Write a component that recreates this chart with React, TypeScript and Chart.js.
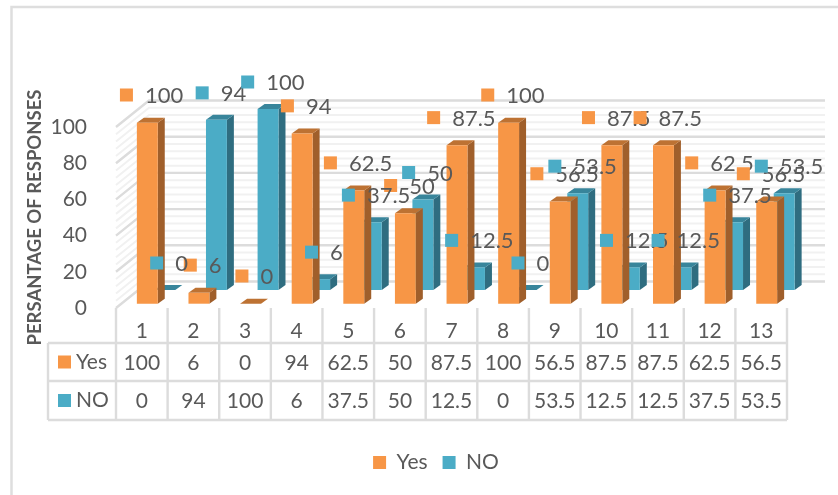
import React, { useEffect, useRef } from "react";
import { Chart, registerables } from "chart.js";

Chart.register(...registerables);

const categories = ["1", "2", "3", "4", "5", "6", "7", "8", "9", "10", "11", "12", "13"];
const yesValues = [100, 6, 0, 94, 62.5, 50, 87.5, 100, 56.5, 87.5, 87.5, 62.5, 56.5];
const noValues = [0, 94, 100, 6, 37.5, 50, 12.5, 0, 53.5, 12.5, 12.5, 37.5, 53.5];
const yTicks = [0, 20, 40, 60, 80, 100];
const yMinorStep = 4;
const yesLabel = "Yes";
const noLabel = "NO";
const axisTitle = "PERSANTAGE OF RESPONSES";

const FONT = "Lato";
const FS = 21;
const LABEL_FS = 22;
const TXT = "#595959";
const ORANGE = { front: "#F79646", side: "#A05F2B", top: "#BD7233" };
const BLUE = { front: "#4BACC6", side: "#2F6D80", top: "#38859B" };
const OFFSETS: { dx: number; dy: number }[] = [
  { dx: 5.5, dy: -4.3 },
  { dx: 23, dy: -18 },
];
const FACES = [ORANGE, BLUE];
const DEPTH = { x: 7, y: 5 };

const bars3d = {
  id: "bars3d",
  beforeDatasetDraw(chart: any, args: any) {
    const ctx = chart.ctx;
    const off = OFFSETS[args.index];
    const faces = FACES[args.index];
    ctx.save();
    ctx.translate(off.dx, off.dy);
    for (const el of args.meta.data) {
      const l = el.x - el.width / 2;
      const r = el.x + el.width / 2;
      ctx.fillStyle = faces.side;
      ctx.beginPath();
      ctx.moveTo(r, el.base);
      ctx.lineTo(r + DEPTH.x, el.base - DEPTH.y);
      ctx.lineTo(r + DEPTH.x, el.y - DEPTH.y);
      ctx.lineTo(r, el.y);
      ctx.closePath();
      ctx.fill();
      ctx.fillStyle = faces.top;
      ctx.beginPath();
      ctx.moveTo(l, el.y);
      ctx.lineTo(l + DEPTH.x, el.y - DEPTH.y);
      ctx.lineTo(r + DEPTH.x, el.y - DEPTH.y);
      ctx.lineTo(r, el.y);
      ctx.closePath();
      ctx.fill();
    }
  },
  afterDatasetDraw(chart: any) {
    chart.ctx.restore();
  },
};

const walls = {
  id: "walls",
  beforeDatasetsDraw(chart: any) {
    const { ctx, scales } = chart;
    const y = scales.y;
    const left = scales.x.left;
    const backX = left + 33;
    const backR = 825;
    const rise = 26.5;
    const major = new Set(yTicks);
    const line = (v: number) => {
      const py = y.getPixelForValue(v);
      ctx.beginPath();
      ctx.moveTo(left, py);
      ctx.lineTo(backX, py - rise);
      ctx.lineTo(backR, py - rise);
      ctx.stroke();
    };
    ctx.save();
    ctx.strokeStyle = "#F1F1F1";
    ctx.lineWidth = 2;
    for (let v = 0; v <= 100; v += yMinorStep) if (!major.has(v)) line(v);
    ctx.strokeStyle = "#DCDCDC";
    ctx.lineWidth = 2.4;
    yTicks.forEach(line);
    ctx.restore();
  },
};

const valueLabels = {
  id: "valueLabels",
  afterDatasetsDraw(chart: any) {
    const { ctx, scales } = chart;
    const groups = [
      { values: yesValues, color: ORANGE.front, dx: 0, dy: -32 },
      { values: noValues, color: BLUE.front, dx: 18, dy: -45 },
    ];
    ctx.save();
    ctx.font = `${LABEL_FS}px ${FONT}`;
    ctx.textBaseline = "middle";
    ctx.textAlign = "left";
    for (const g of groups) {
      g.values.forEach((v, i) => {
        const text = String(v);
        const w = ctx.measureText(text).width;
        const cx = scales.x.getPixelForValue(i) + g.dx - 0.48 * w + 3;
        const cy = scales.y.getPixelForValue(v) + g.dy;
        ctx.fillStyle = g.color;
        ctx.fillRect(cx - 6.5, cy - 6.5, 13, 13);
        ctx.fillStyle = TXT;
        ctx.fillText(text, cx + 18.5, cy + 1);
      });
    }
    ctx.restore();
  },
};

const dataTable = {
  id: "dataTable",
  afterDraw(chart: any) {
    const { ctx, scales } = chart;
    const x = scales.x;
    const tableLeft = 48;
    const rows = [343, 381, 420];
    const axisTop = scales.y.getPixelForValue(0);
    const cw = (x.right - x.left) / categories.length;
    ctx.save();
    ctx.strokeStyle = "#DCDCDC";
    ctx.lineWidth = 2.4;
    ctx.beginPath();
    rows.forEach((r) => {
      ctx.moveTo(tableLeft, r);
      ctx.lineTo(x.right, r);
    });
    ctx.moveTo(tableLeft, rows[0]);
    ctx.lineTo(tableLeft, rows[2]);
    for (let i = 0; i <= categories.length; i++) {
      const px = x.left + cw * i;
      ctx.moveTo(px, axisTop);
      ctx.lineTo(px, rows[2]);
    }
    ctx.stroke();
    ctx.font = `${FS}px ${FONT}`;
    ctx.textBaseline = "middle";
    const series = [
      { name: yesLabel, values: yesValues, color: ORANGE.front },
      { name: noLabel, values: noValues, color: BLUE.front },
    ];
    series.forEach((s, r) => {
      const cy = (rows[r] + rows[r + 1]) / 2;
      ctx.fillStyle = s.color;
      ctx.fillRect(58, cy - 6.5, 13, 13);
      ctx.fillStyle = TXT;
      ctx.textAlign = "left";
      ctx.fillText(s.name, 76, cy);
      ctx.textAlign = "center";
      s.values.forEach((v, i) => ctx.fillText(String(v), x.getPixelForValue(i), cy + 1));
    });
    ctx.restore();
  },
};

const frame = {
  id: "frame",
  beforeDraw(chart: any) {
    const { ctx, width, height } = chart;
    ctx.save();
    ctx.strokeStyle = "#DEDEDE";
    ctx.lineWidth = 2.5;
    ctx.beginPath();
    ctx.moveTo(11.5, height);
    ctx.lineTo(11.5, 7);
    ctx.lineTo(width, 7);
    ctx.stroke();
    ctx.restore();
  },
};

const legendShift = {
  id: "legendShift",
  afterLayout(chart: any) {
    const lg = chart.legend;
    const shift = 436 - (lg.left + lg.right) / 2;
    lg.left += shift;
    lg.right += shift;
  },
};

export default function App() {
  const ref = useRef<HTMLCanvasElement>(null);
  useEffect(() => {
    document.body.style.margin = "0";
    document.body.style.background = "#fff";
    const chart = new Chart(ref.current!, {
      type: "bar",
      data: {
        labels: categories,
        datasets: [
          { label: yesLabel, data: yesValues, backgroundColor: ORANGE.front, clip: false as any },
          { label: noLabel, data: noValues, backgroundColor: BLUE.front, clip: false as any },
        ],
      },
      options: {
        responsive: false,
        animation: false,
        layout: { padding: { top: 127, right: 51, bottom: 12, left: 0 } },
        datasets: { bar: { grouped: false, barPercentage: 0.405, categoryPercentage: 1 } },
        plugins: {
          tooltip: { enabled: false },
          legend: {
            position: "bottom",
            labels: {
              boxWidth: 13,
              boxHeight: 13,
              padding: 15,
              color: TXT,
              font: { family: FONT, size: FS },
            },
          },
        },
        scales: {
          x: {
            grid: { display: false },
            border: { display: false },
            ticks: { color: TXT, font: { family: FONT, size: FS }, padding: 3, maxRotation: 0, autoSkip: false },
            afterFit: (s: any) => {
              s.height = 129;
            },
          },
          y: {
            min: 0,
            max: 100,
            afterBuildTicks: (s: any) => {
              s.ticks = yTicks.map((value) => ({ value }));
            },
            grid: { display: false },
            border: { display: false },
            ticks: { color: TXT, font: { family: FONT, size: FS }, padding: 21 },
            title: {
              display: true,
              text: axisTitle,
              color: TXT,
              font: { family: FONT, size: 18.5, weight: "bold" },
              padding: { top: 24, bottom: 0 },
            },
            afterFit: (s: any) => {
              s.width = 116;
            },
          },
        },
      },
      plugins: [frame, walls, bars3d, valueLabels, dataTable, legendShift],
    });
    return () => chart.destroy();
  }, []);
  return (
    <div style={{ position: "fixed", left: 0, top: 0, width: 838, height: 495 }}>
      <canvas ref={ref} width={838} height={495} style={{ display: "block" }} />
    </div>
  );
}
